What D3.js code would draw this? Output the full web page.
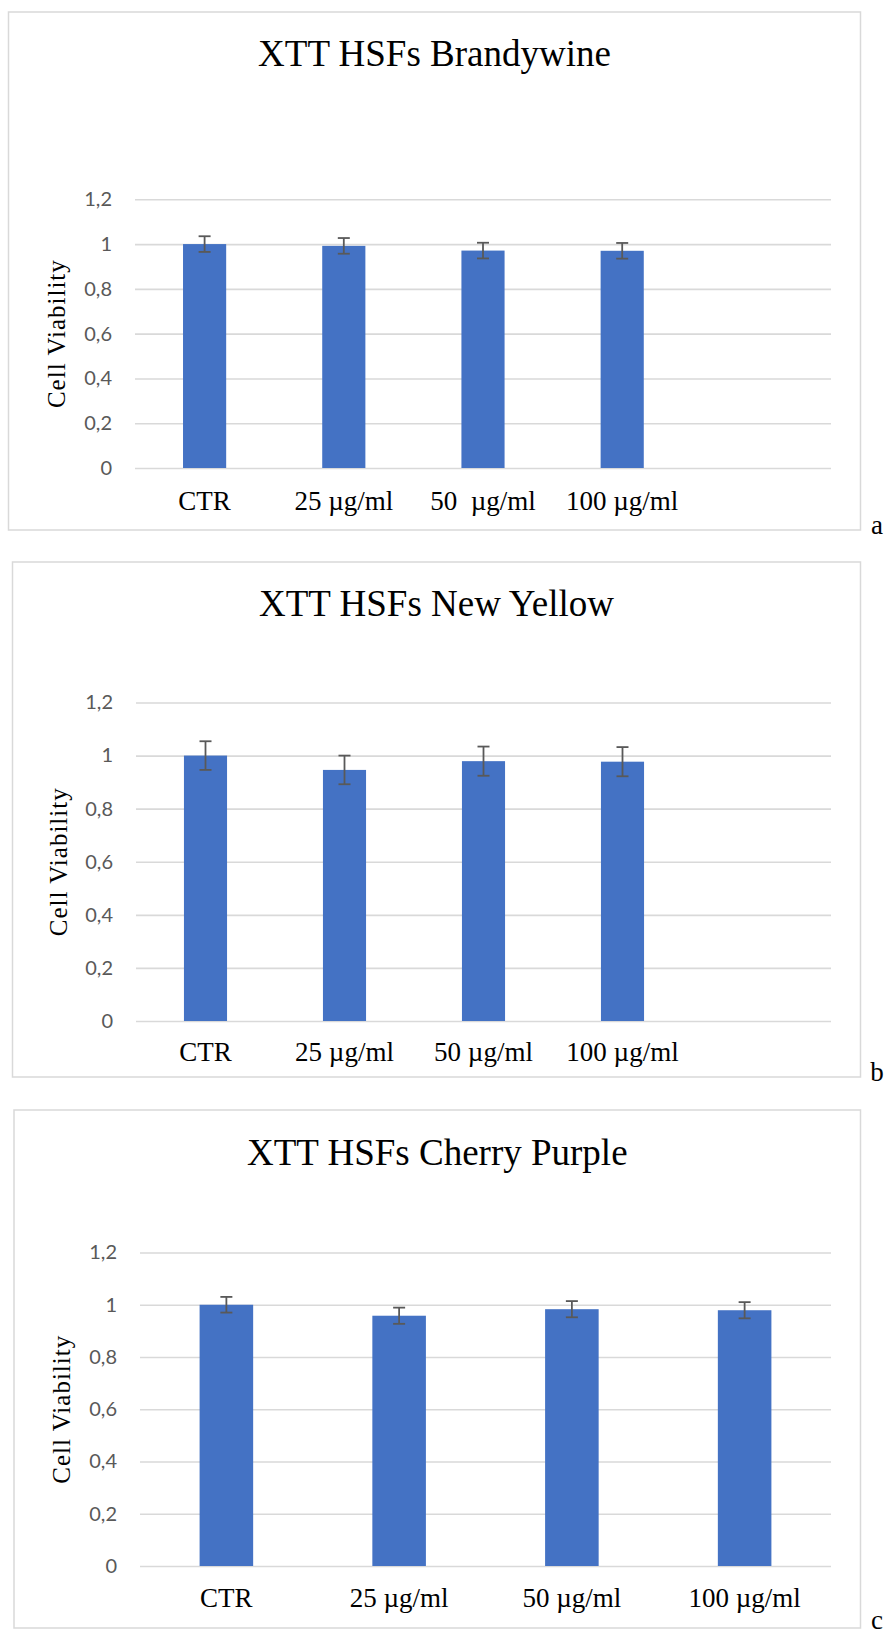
<!DOCTYPE html>
<html>
<head>
<meta charset="utf-8">
<script src="https://cdn.jsdelivr.net/npm/d3@7"></script>
<style>
  html, body { margin: 0; padding: 0; background: #fff; }
  svg { display: block; }
</style>
</head>
<body>
<svg id="fig" width="889" height="1638"></svg>
<script>
// Shared axis content
const yTickValues = [0, 0.2, 0.4, 0.6, 0.8, 1, 1.2];
const yTickLabels = ["0", "0,2", "0,4", "0,6", "0,8", "1", "1,2"];
const yAxisTitle = "Cell Viability";

// Panel a — Brandywine
const brandywineTitle = "XTT HSFs Brandywine";
const brandywineCategories = ["CTR", "25 µg/ml", "50  µg/ml", "100 µg/ml"];
const brandywineValues = [1.0, 0.992, 0.971, 0.970];
const brandywineErrors = [0.035, 0.035, 0.035, 0.035];

// Panel b — New Yellow
const newYellowTitle = "XTT HSFs New Yellow";
const newYellowCategories = ["CTR", "25 µg/ml", "50 µg/ml", "100 µg/ml"];
const newYellowValues = [1.0, 0.946, 0.979, 0.977];
const newYellowErrors = [0.054, 0.054, 0.055, 0.055];

// Panel c — Cherry Purple
const cherryPurpleTitle = "XTT HSFs Cherry Purple";
const cherryPurpleCategories = ["CTR", "25 µg/ml", "50 µg/ml", "100 µg/ml"];
const cherryPurpleValues = [1.0, 0.958, 0.983, 0.979];
const cherryPurpleErrors = [0.030, 0.031, 0.031, 0.031];

const panelLetters = ["a", "b", "c"];

const BAR_COLOR = "#4472C4";
const ERR_COLOR = "#595959";
const GRID_COLOR = "#d9d9d9";
const SERIF = "'Liberation Serif', 'Times New Roman', serif";
const SANS = "Lato, 'Open Sans', sans-serif";

const svg = d3.select("#fig");

function drawPanel(p) {
  const g = svg.append("g");

  // chart frame
  g.append("rect")
    .attr("x", p.box[0]).attr("y", p.box[1])
    .attr("width", p.box[2] - p.box[0]).attr("height", p.box[3] - p.box[1])
    .attr("fill", "none").attr("stroke", GRID_COLOR).attr("stroke-width", 1.5);

  // panel letter outside the frame
  g.append("text")
    .attr("x", p.letterPos[0]).attr("y", p.letterPos[1])
    .attr("text-anchor", "middle")
    .style("font-family", SERIF).style("font-size", "27px").attr("fill", "#000")
    .text(p.letter);

  // title
  g.append("text")
    .attr("x", (p.box[0] + p.box[2]) / 2).attr("y", p.titleY)
    .attr("text-anchor", "middle")
    .style("font-family", SERIF).style("font-size", "37px").attr("fill", "#000")
    .text(p.title);

  const y = d3.scaleLinear().domain([0, 1.2]).range([p.y0, p.y12]);

  // category slots; a spare trailing slot leaves empty space on the right
  const slots = p.categories.concat(d3.range(p.spareSlots).map(i => "spare" + i));
  const x = d3.scaleBand().domain(slots).range([p.left, p.right]).paddingInner(0).paddingOuter(0);
  const barW = x.bandwidth() * 0.31;

  // gridlines + tick labels via the axis generator
  const axis = d3.axisLeft(y)
    .tickValues(yTickValues)
    .tickFormat((d, i) => yTickLabels[i])
    .tickSize(-(p.right - p.left))
    .tickPadding(23);
  const ax = g.append("g").attr("transform", `translate(${p.left},0)`).call(axis);
  ax.select(".domain").remove();
  ax.selectAll(".tick line").attr("stroke", GRID_COLOR).attr("stroke-width", 1.6);
  ax.selectAll(".tick text")
    .attr("fill", "#595959")
    .style("font-family", SANS).style("font-size", "20px");

  // y-axis title
  g.append("text")
    .attr("transform", `translate(${p.yTitleX},${(p.y0 + p.y12) / 2}) rotate(-90)`)
    .attr("text-anchor", "middle")
    .style("font-family", SERIF).style("font-size", "25px")
    .style("letter-spacing", "1px").attr("fill", "#000")
    .text(yAxisTitle);

  const rows = p.categories.map((c, i) => ({ c, v: p.values[i], e: p.errors[i] }));

  // bars
  g.append("g").selectAll("rect").data(rows).join("rect")
    .attr("x", d => x(d.c) + x.bandwidth() / 2 - barW / 2)
    .attr("y", d => y(d.v))
    .attr("width", barW)
    .attr("height", d => y(0) - y(d.v))
    .attr("fill", BAR_COLOR);

  // error bars
  const eb = g.append("g").attr("stroke", ERR_COLOR).attr("stroke-width", 1.8).attr("fill", "none");
  const cap = 6;
  rows.forEach(d => {
    const cx = x(d.c) + x.bandwidth() / 2;
    const yt = y(d.v + d.e), yb = y(d.v - d.e);
    eb.append("line").attr("x1", cx).attr("x2", cx).attr("y1", yt).attr("y2", yb);
    eb.append("line").attr("x1", cx - cap).attr("x2", cx + cap).attr("y1", yt).attr("y2", yt);
    eb.append("line").attr("x1", cx - cap).attr("x2", cx + cap).attr("y1", yb).attr("y2", yb);
  });

  // category labels
  g.append("g").selectAll("text").data(p.categories).join("text")
    .attr("x", d => x(d) + x.bandwidth() / 2)
    .attr("y", p.labelY)
    .attr("text-anchor", "middle")
    .style("white-space", "pre")
    .style("font-family", SERIF).style("font-size", "27px").attr("fill", "#000")
    .text(d => d);
}

drawPanel({
  title: brandywineTitle, categories: brandywineCategories,
  values: brandywineValues, errors: brandywineErrors, letter: panelLetters[0],
  box: [8.5, 12, 860.5, 530], titleY: 66,
  left: 135, right: 831, spareSlots: 1, y0: 468, y12: 199.3,
  labelY: 510, yTitleX: 65, letterPos: [877, 534]
});

drawPanel({
  title: newYellowTitle, categories: newYellowCategories,
  values: newYellowValues, errors: newYellowErrors, letter: panelLetters[1],
  box: [12.5, 562, 860.5, 1077], titleY: 616,
  left: 136, right: 831, spareSlots: 1, y0: 1021, y12: 702.5,
  labelY: 1061, yTitleX: 67, letterPos: [877, 1081]
});

drawPanel({
  title: cherryPurpleTitle, categories: cherryPurpleCategories,
  values: cherryPurpleValues, errors: cherryPurpleErrors, letter: panelLetters[2],
  box: [14, 1110, 860.5, 1628], titleY: 1165,
  left: 140, right: 831, spareSlots: 0, y0: 1566, y12: 1252.5,
  labelY: 1607, yTitleX: 70, letterPos: [877, 1629]
});
</script>
</body>
</html>
